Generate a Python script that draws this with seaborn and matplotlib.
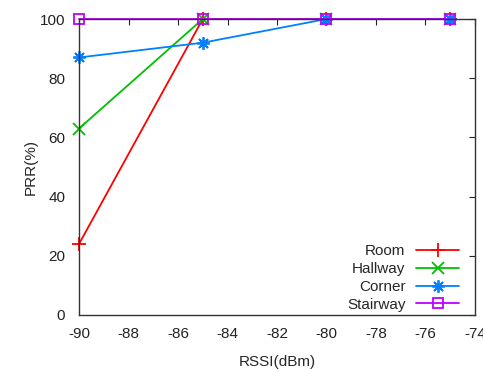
import matplotlib
matplotlib.use("Agg")
import matplotlib.pyplot as plt
import seaborn as sns
import pandas as pd

rssi = [-90, -85, -80, -75]
room = [24, 100, 100, 100]
hallway = [63, 100, 100, 100]
corner = [87, 92, 100, 100]
stairway = [100, 100, 100, 100]
names = ["Room", "Hallway", "Corner", "Stairway"]
colors = ["#ff0000", "#00c000", "#0080ff", "#c000ff"]
markers = ["+", "x", (8, 2, 0), "s"]
msizes = [10, 8, 9, 7]

sns.set_style("white")
plt.rcParams["font.family"] = ["Liberation Sans", "DejaVu Sans"]
plt.rcParams["axes.unicode_minus"] = False

rows = []
for n, vals in zip(names, [room, hallway, corner, stairway]):
    for x, y in zip(rssi, vals):
        rows.append({"RSSI": x, "PRR": y, "Location": n})
df = pd.DataFrame(rows)

fig = plt.figure(figsize=(4.83, 3.73), dpi=100)
ax = fig.add_axes([0.1636, 0.1555, 0.8198, 0.7935])

for n, c, m, ms in zip(names, colors, markers, msizes):
    sub = df[df["Location"] == n]
    mfc = "none" if m == "s" else c
    sns.lineplot(data=sub, x="RSSI", y="PRR", ax=ax, color=c, marker=m,
                 markersize=ms, markerfacecolor=mfc,
                 markeredgecolor=c, markeredgewidth=1.3, linewidth=1.3,
                 label=n)

ax.set_xlim(-90, -74)
ax.set_ylim(0, 100)
ax.set_xticks(range(-90, -73, 2))
ax.set_yticks(range(0, 101, 20))
ax.tick_params(direction="in", top=True, right=True, length=4, width=0.8,
               labelsize=11, colors="#222222")
ax.tick_params(axis="x", pad=9)
ax.tick_params(axis="y", pad=10)
for s in ax.spines.values():
    s.set_color("#333333")
    s.set_linewidth(1.0)
ax.set_xlabel("RSSI(dBm)", fontsize=11, labelpad=10)
ax.set_ylabel("PRR(%)", fontsize=11, labelpad=1)
for line in ax.lines:
    line.set_clip_on(False)

leg = ax.legend(loc="lower right", frameon=False, markerfirst=False,
                fontsize=11, handlelength=2.8, labelspacing=0.25,
                borderaxespad=0.0, handletextpad=0.7,
                bbox_to_anchor=(0.975, -0.01))
fig.savefig("out.png", dpi=100)
